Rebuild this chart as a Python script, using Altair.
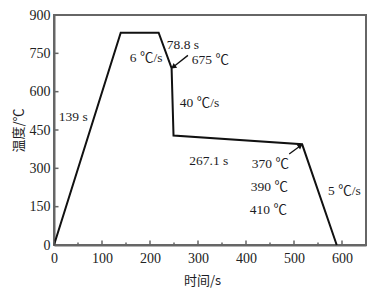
import altair as alt
import pandas as pd

# heat-treatment curve (time in s, temperature in ℃)
time_s = [0, 139, 218, 245, 249, 517, 589]
temp_c = [0, 831, 831, 692, 428, 394, 0]

# axes
x_ticks = [0, 100, 200, 300, 400, 500, 600]
x_minor = [50, 150, 250, 350, 450, 550]
y_ticks = [0, 150, 300, 450, 600, 750, 900]
y_inner = [150, 300, 450, 600, 750]

# annotations (data coordinates)
label_text = ["139 s", "6 ℃/s", "78.8 s", "675 ℃", "40 ℃/s", "267.1 s",
              "370 ℃", "390 ℃", "410 ℃", "5 ℃/s"]
label_x = [10, 158, 235, 287, 262, 282, 412, 410, 408, 571]
label_y = [501, 733, 781, 722, 556, 328, 316, 226, 136, 210]

# arrows: start -> end
arrow_id = [1, 1, 2, 2]
arrow_x = [279, 247, 490, 517]
arrow_y = [742, 695, 356, 393]
head_x = [250, 512]
head_y = [699, 387]
head_angle = [233, 54]

curve = pd.DataFrame({"t": time_s, "T": temp_c, "i": range(len(time_s))})
labels = pd.DataFrame({"text": label_text, "x": label_x, "y": label_y})
arrows = pd.DataFrame({"id": arrow_id, "x": arrow_x, "y": arrow_y})
heads = pd.DataFrame({"x": head_x, "y": head_y, "a": head_angle})
xt = pd.DataFrame({"v": x_ticks[:]})
xm = pd.DataFrame({"v": x_minor})
yt = pd.DataFrame({"v": y_inner})

SERIF = "Liberation Serif, Noto Sans CJK SC"
TXT = "#1c1c24"

xscale = alt.Scale(domain=[0, 650], nice=False, zero=False)
yscale = alt.Scale(domain=[0, 900], nice=False)

xaxis = alt.Axis(values=x_ticks, title="时间/s", labelFontSize=14, titleFontSize=13,
                 labelPadding=6, titleX=148, titleY=35, titleBaseline="middle",
                 labelOverlap=False, labelFlush=False,
                 titleFont="Noto Sans CJK SC", titleFontWeight="normal")
yaxis = alt.Axis(values=y_ticks, title="温度/℃", labelFontSize=14, titleFontSize=13,
                 labelPadding=4, titleX=-36, titleY=115, titleAlign="center",
                 titleBaseline="middle", titleAngle=270, labelOverlap=False,
                 labelFlush=False,
                 titleFont="Noto Sans CJK SC", titleFontWeight="normal")


def X(f):
    return alt.X(f, scale=xscale, axis=xaxis)


def Y(f):
    return alt.Y(f, scale=yscale, axis=yaxis)


line = alt.Chart(curve).mark_line(color="#111", strokeWidth=2).encode(
    x=X("t:Q"), y=Y("T:Q"), order="i:Q",
)

xtick_major = alt.Chart(xt).mark_rule(color="#666", strokeWidth=1.5).encode(
    x=X("v:Q"), y=alt.value(230), y2=alt.value(225.5))
xtick_minor = alt.Chart(xm).mark_rule(color="#666", strokeWidth=1.5).encode(
    x=X("v:Q"), y=alt.value(230), y2=alt.value(227.5))
ytick = alt.Chart(yt).mark_rule(color="#666", strokeWidth=1.5).encode(
    y=Y("v:Q"), x=alt.value(0), x2=alt.value(4.5))

text = alt.Chart(labels).mark_text(align="left", baseline="middle", font=SERIF,
                                   fontSize=13.5, color=TXT).encode(
    x=X("x:Q"), y=Y("y:Q"), text="text:N")

arrow_lines = alt.Chart(arrows).mark_line(color="#111", strokeWidth=1.3).encode(
    x=X("x:Q"), y=Y("y:Q"), detail="id:N")

arrow_heads = alt.Chart(heads).mark_point(shape="triangle", filled=True, size=35,
                                          color="#111", opacity=1).encode(
    x=X("x:Q"), y=Y("y:Q"),
    angle=alt.Angle("a:Q", scale=None))

chart = alt.layer(line, xtick_major, xtick_minor, ytick, arrow_lines, arrow_heads, text).properties(
    width=312, height=230,
    autosize=alt.AutoSizeParams(type="none"),
    padding={"left": 46, "top": 7, "right": 5, "bottom": 43},
    background="white",
).configure_view(stroke="#666", strokeWidth=2).configure_axis(
    grid=False, ticks=False, domainColor="#666", domainWidth=2, labelOverlap=False,
    labelFont="Liberation Serif", labelColor="#222", titleColor=TXT,
)

chart.save("out.html", embed_options={"renderer": "svg", "actions": False})
